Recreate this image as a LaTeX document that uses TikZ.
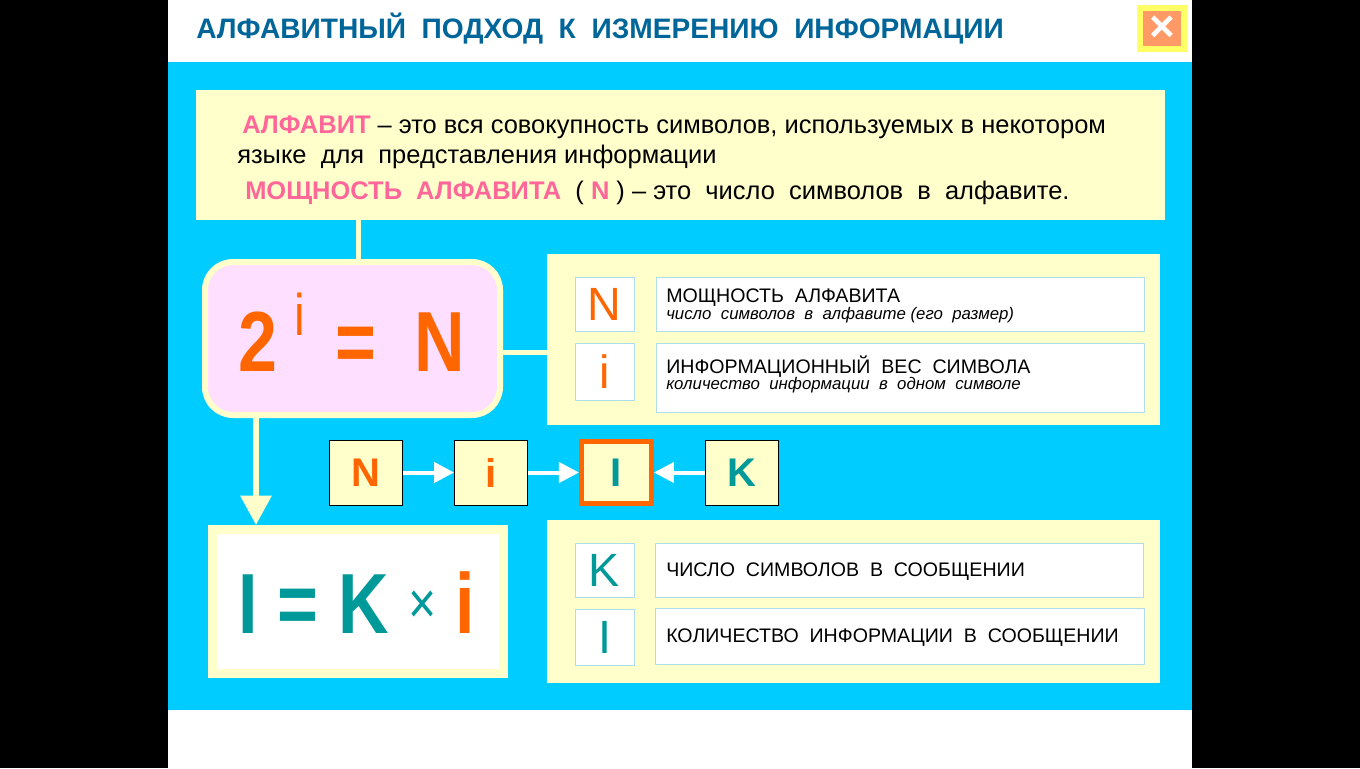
\documentclass[tikz,border=0pt]{standalone}
\usepackage{fontspec}
\setmainfont{Liberation Sans}
\newfontfamily\narrowsf[FakeStretch=0.82]{Liberation Sans}
\usetikzlibrary{arrows.meta,positioning,fit}
\definecolor{sky}{HTML}{00CCFF}
\definecolor{cream}{HTML}{FFFFCC}
\definecolor{headblue}{HTML}{006699}
\definecolor{rose}{HTML}{FF6699}
\definecolor{flame}{HTML}{FF6600}
\definecolor{sea}{HTML}{009999}
\definecolor{lilac}{HTML}{FFDFFF}
\definecolor{frame}{HTML}{B0DDEA}
\definecolor{btnyellow}{HTML}{FFFF66}
\definecolor{btnorange}{HTML}{FF9966}
\newcommand{\fsz}[1]{\fontsize{#1}{#1}\selectfont}

\begin{document}
\begin{tikzpicture}[x=0.75pt,y=-0.75pt,node distance=38.5pt,
    pane/.style={fill=cream, inner sep=0pt},
    cell/.style={draw=frame, fill=white, inner sep=0pt, line width=0.75pt},
    link/.style={draw=cream, line width=3.75pt},
    chainbox/.style={draw=black, fill=cream, minimum width=54.75pt, minimum height=48.75pt, inner sep=0pt, font=\bfseries\fsz{30pt}},
    flow/.style={draw=white, line width=3pt, -{Triangle[length=15pt,width=15pt]}},
    lbl/.style={anchor=base west, inner sep=0pt}]
        % page
        \fill[black] (0,0) rectangle (1360,768);
        \fill[white] (168,0) rectangle (1192,768);
        \fill[sky] (168,62) rectangle (1192,710);

        % title and close button
        \node (title) [lbl, text=headblue, font=\bfseries\fsz{21.1pt}] at (196,38) {АЛФАВИТНЫЙ\ \ ПОДХОД\ \ К\ \ ИЗМЕРЕНИЮ\ \ ИНФОРМАЦИИ};
        \node (close) [fit={(1140,8) (1184,49)}, inner sep=0pt, fill=btnorange, draw=btnyellow, line width=4.5pt,
            label={[text=white, font=\bfseries\fsz{33pt}, inner sep=0pt]center:×}] {};

        % definitions
        \node (defbox) [pane, fit={(196,90) (1165,220)}] {};
        \node (def1) [lbl, font=\fsz{19.1pt}] at (242,133) {{\bfseries\color{rose}АЛФАВИТ} – это вся совокупность символов, используемых в некотором};
        \node (def2) [lbl, font=\fsz{19.1pt}] at (237,163) {языке\ \ для\ \ представления информации};
        \node (def3) [lbl, font=\fsz{19.1pt}] at (245,199) {{\bfseries\color{rose}МОЩНОСТЬ\ \ АЛФАВИТА}\ \ ( {\bfseries\color{rose}N} ) – это\ \ число\ \ символов\ \ в\ \ алфавите.};

        % formula 2^i = N
        \node (powbox) [fit={(205,262) (500,415)}, inner sep=0pt, rounded corners=21pt, fill=lilac, draw=cream, line width=4.5pt] {};
        \node (powtxt) [anchor=base, inner sep=0pt, text=flame, font=\narrowsf\bfseries\fsz{64pt}] at (352,371)
            {2\hspace{12.75pt}\raisebox{27pt}{\mdseries\fsz{44pt}i}\hspace{22.5pt}=\hspace{29pt}N};

        % meaning of N and i
        \node (infobox) [pane, fit={(547,254) (1160,425)}] {};
        \node (symN) [cell, fit={(575,277) (634,331)}, label={[text=flame, font=\fsz{35pt}]center:N}] {};
        \node (descN) [cell, fit={(656,277) (1144,331)}] {};
        \node (symi) [cell, fit={(575,343) (634,400)}, label={[text=flame, font=\fsz{35pt}]center:i}] {};
        \node (desci) [cell, fit={(656,343) (1144,412)}] {};
        \node (nameN) [lbl, font=\fsz{14.7pt}] at (666,302) {МОЩНОСТЬ\ \ АЛФАВИТА};
        \node (noteN) [lbl, font=\itshape\fsz{12.6pt}] at (666,319) {число\ \ символов\ \ в\ \ алфавите (его\ \ размер)};
        \node (namei) [lbl, font=\fsz{14.7pt}] at (666,373) {ИНФОРМАЦИОННЫЙ\ \ ВЕС\ \ СИМВОЛА};
        \node (notei) [lbl, font=\itshape\fsz{12.6pt}] at (666,389) {количество\ \ информации\ \ в\ \ одном\ \ символе};

        % chain N -> i -> I <- K
        \node (cN) [chainbox, text=flame] at (366,472.5) {N};
        \node (ci) [chainbox, text=flame, right=of cN] {i};
        \node (cI) [chainbox, text=sea, draw=flame, line width=3.75pt, minimum width=52.5pt, minimum height=46pt, right=of ci] {I};
        \node (cK) [chainbox, text=sea, right=of cI] {K};
        \draw[flow] (cN) -- (ci);
        \draw[flow] (ci) -- (cI);
        \draw[flow] (cK) -- (cI);

        % formula I = K x i
        \node (resbox) [fit={(212.5,529.5) (503.5,673.5)}, inner sep=0pt, fill=white, draw=cream, line width=6.75pt] {};
        \node (restxt) [anchor=base, inner sep=0pt, text=sea, font=\narrowsf\bfseries\fsz{64pt}] at (357,633)
            {I = K \raisebox{7.5pt}{\mdseries\fsz{44pt}×} \textcolor{flame}{i}};

        % meaning of K and I
        \node (msgbox) [pane, fit={(547,520) (1160,683)}] {};
        \node (symK) [cell, fit={(575,543) (634,597)}, label={[text=sea, font=\fsz{35pt}]center:K}] {};
        \node (descK) [cell, fit={(655,543) (1143,597)}] {};
        \node (symI) [cell, fit={(575,609) (634,665)}, label={[text=sea, font=\fsz{35pt}]center:I}] {};
        \node (descI) [cell, fit={(655,608) (1144,664)}] {};
        \node (nameK) [lbl, font=\fsz{14.7pt}] at (666,576) {ЧИСЛО\ \ СИМВОЛОВ\ \ В\ \ СООБЩЕНИИ};
        \node (nameI) [lbl, font=\fsz{14.7pt}] at (666,642) {КОЛИЧЕСТВО\ \ ИНФОРМАЦИИ\ \ В\ \ СООБЩЕНИИ};

        % connectors
        \coordinate (joinx) at (358,0);
        \coordinate (sidey) at (0,352);
        \coordinate (dropx) at (256,0);
        \draw[link] (defbox.south -| joinx) -- (powbox.north -| joinx);
        \draw[link] (powbox.east |- sidey) -- (infobox.west |- sidey);
        \draw[link, line width=4.5pt, -{Triangle[length=22pt,width=22.5pt]}, cream] (powbox.south -| dropx) -- (resbox.north -| dropx);
    \end{tikzpicture}
\end{document}
